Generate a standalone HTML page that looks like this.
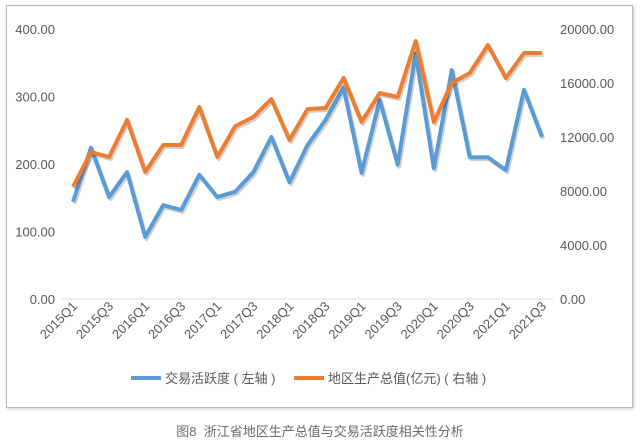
<!DOCTYPE html>
<html><head><meta charset="utf-8">
<style>
body{margin:0;background:#fff;width:640px;height:442px;overflow:hidden;font-family:"Liberation Sans","Noto Sans CJK SC",sans-serif;}
#box{position:absolute;left:6px;top:5px;width:625px;height:401px;border:1px solid #bcbcbc;box-shadow:1px 1px 3px #ccc;background:#fff;}
#cap{position:absolute;left:0;width:640px;top:421px;text-align:center;font-size:13px;color:#6a6a6a;}
svg{position:absolute;left:0;top:0;}
</style></head><body>
<div id="box"></div>
<svg id="chart" width="640" height="442"></svg>
<div id="cap">图8&nbsp; 浙江省地区生产总值与交易活跃度相关性分析</div>
<script>
const categories=["2015Q1","2015Q2","2015Q3","2015Q4","2016Q1","2016Q2","2016Q3","2016Q4","2017Q1","2017Q2","2017Q3","2017Q4","2018Q1","2018Q2","2018Q3","2018Q4","2019Q1","2019Q2","2019Q3","2019Q4","2020Q1","2020Q2","2020Q3","2020Q4","2021Q1","2021Q2","2021Q3"];
const activity=[144,224,151,188,92,139,132,184,151,159,188,240,173,228,265,313,187,295,199,364,194,339,210,210,191,310,240];
const gdp=[8300,10890,10520,13260,9410,11410,11410,14220,10520,12810,13480,14810,11780,14070,14150,16370,13110,15260,14960,19110,13110,16000,16740,18810,16370,18220,18220];
const leftTicks=["0.00","100.00","200.00","300.00","400.00"];
const rightTicks=["0.00","4000.00","8000.00","12000.00","16000.00","20000.00"];
const NS="http://www.w3.org/2000/svg";
const svg=document.getElementById('chart');
const x0=73,x1=542,yB=299,yT=29,leftMax=400,rightMax=20000;
const xs=i=>x0+i*(x1-x0)/(categories.length-1);
const yl=v=>yB-v/leftMax*(yB-yT);
const yr=v=>yB-v/rightMax*(yB-yT);
function mk(t,a){const e=document.createElementNS(NS,t);for(const k in a)e.setAttribute(k,a[k]);svg.appendChild(e);return e;}
const ax=mk('line',{x1:62,x2:553,y1:yB,y2:yB,stroke:'#d9d9d9','stroke-width':1});


leftTicks.forEach(t=>{const e=mk('text',{x:55,y:yl(+t)+5,'text-anchor':'end','font-size':13,fill:'#595959'});e.textContent=t;

});
rightTicks.forEach(t=>{const e=mk('text',{x:560,y:yr(+t)+5,'font-size':13,fill:'#595959'});e.textContent=t;

});
categories.forEach((c,i)=>{if(i%2)return;const px=xs(i)+5,py=307;const e=mk('text',{x:px,y:py,'text-anchor':'end','font-size':13,fill:'#595959',transform:`rotate(-45 ${px} ${py})`});e.textContent=c;

});
function line(vals,f,col,name){
const d=vals.map((v,i)=>(i?'L':'M')+xs(i).toFixed(1)+' '+f(v).toFixed(1)).join(' ');
const s=mk('path',{d,fill:'none',stroke:'rgba(0,0,0,0.18)','stroke-width':4,'stroke-linejoin':'round',transform:'translate(1.5,2)'});


const p=mk('path',{d,fill:'none',stroke:col,'stroke-width':4,'stroke-linejoin':'round'});

}
line(activity,yl,'#5b9bd5','activity-line');
line(gdp,yr,'#ed7d31','gdp-line');
const l1=mk('line',{x1:131,x2:161,y1:378,y2:378,stroke:'#5b9bd5','stroke-width':4});


const t1=mk('text',{x:165,y:383,'font-size':13,fill:'#595959'});t1.textContent='交易活跃度 ( 左轴 )';


const l2=mk('line',{x1:294,x2:324,y1:378,y2:378,stroke:'#ed7d31','stroke-width':4});


const t2=mk('text',{x:328,y:383,'font-size':13,fill:'#595959'});t2.textContent='地区生产总值(亿元) ( 右轴 )';


</script>
</body></html>
